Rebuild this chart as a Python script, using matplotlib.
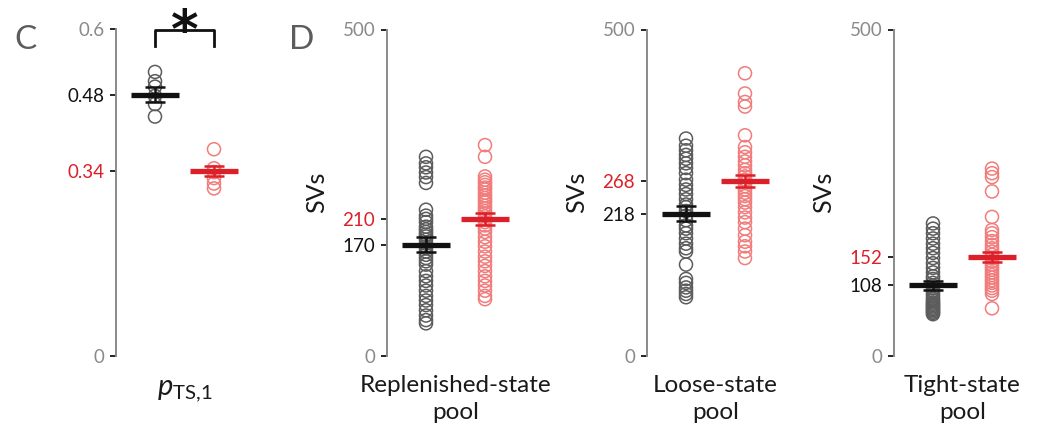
import matplotlib
matplotlib.use("Agg")
import matplotlib.pyplot as plt
import numpy as np

plt.rcParams.update({"font.family": ["Lato", "DejaVu Sans"]})
plt.rcParams.update({"mathtext.fontset": "custom",
                     "mathtext.rm": "Lato",
                     "mathtext.it": "Lato:italic"})

grey = "#8a8a8a"
dark = "#5c5c5c"
black = "#111111"
ink = "#1a1a1a"
red = "#dc2029"
pink = "#f27c7c"

# panel C: p_TS,1 per cell, control vs treated
p_ctrl = [0.522, 0.505, 0.495, 0.478, 0.463, 0.440]
p_trt = [0.380, 0.345, 0.338, 0.327, 0.317, 0.308]
p_means = [0.48, 0.34]
p_sems = [0.014, 0.0095]

# panel D: SV counts per pool
pools = ["Replenished-state\npool", "Loose-state\npool", "Tight-state\npool"]
rep_ctrl = [305, 295, 289, 281, 274, 265, 224, 215, 210, 205, 198, 194, 190, 186, 183,
            178, 172, 168, 165, 160, 155, 150, 145, 140, 130, 122, 115, 108, 100, 92,
            85, 78, 70, 62, 55, 50]
rep_trt = [323, 305, 275, 270, 266, 262, 258, 255, 250, 246, 242, 238, 235, 230, 226,
           222, 218, 214, 210, 205, 200, 195, 190, 182, 175, 168, 160, 152, 145, 138,
           130, 122, 115, 108, 100, 92, 87]
loose_ctrl = [333, 322, 315, 308, 302, 295, 288, 280, 270, 262, 255, 248, 240, 232,
              228, 222, 215, 208, 200, 195, 188, 180, 172, 165, 160, 140, 118, 112,
              105, 100, 95, 90]
loose_trt = [433, 402, 389, 382, 338, 320, 312, 305, 298, 292, 285, 280, 275, 270,
             265, 260, 255, 250, 245, 240, 235, 228, 220, 212, 205, 195, 185, 175,
             168, 160, 150]
tight_ctrl = [203, 195, 188, 180, 172, 165, 158, 150, 142, 135, 128, 122, 118, 112,
              108, 104, 100, 96, 92, 88, 85, 82, 80, 78, 76, 74, 72, 70, 68, 66, 64]
tight_trt = [287, 280, 274, 252, 213, 193, 188, 182, 176, 170, 165, 160, 155, 150,
             145, 140, 136, 132, 128, 124, 120, 116, 112, 108, 104, 100, 95, 73]
sv_ctrl = [rep_ctrl, loose_ctrl, tight_ctrl]
sv_trt = [rep_trt, loose_trt, tight_trt]
sv_means = [[170, 210], [218, 268], [108, 152]]
sv_sems = [[11.5, 9], [11.5, 9.5], [6.5, 8]]


def scatter_panel(ax, groups, means, sems, ymax, labels):
    xs = [1, 2]
    edge = [dark, pink]
    solid = [black, red]
    for x, vals, ec in zip(xs, groups, edge):
        ax.scatter(np.full(len(vals), x), vals, s=88, facecolors="none",
                   edgecolors=ec, linewidths=1.1, zorder=2)
    for x, m, s, c in zip(xs, means, sems, solid):
        ax.hlines(m, x - 0.41, x + 0.41, color=c, lw=3.8, zorder=4)
        ax.errorbar(x, m, yerr=s, color=c, lw=1.8, capsize=7, capthick=1.8,
                    zorder=5)
    ax.set_xlim(0.339, 2.661)
    ax.set_ylim(0, ymax)
    for side in ["top", "right", "bottom"]:
        ax.spines[side].set_visible(False)
    ax.spines["left"].set_color(grey)
    ax.spines["left"].set_linewidth(1.4)
    ax.set_xticks([])
    ax.set_yticks([0, means[1], means[0], ymax])
    ax.set_yticklabels(labels, fontsize=13.5)
    ax.tick_params(axis="y", length=4.5, width=1.2, pad=4)
    tick_colors = [grey, red, black, grey]
    for lab, tk, c in zip(ax.get_yticklabels(), ax.yaxis.get_major_ticks(), tick_colors):
        lab.set_color(c)
        tk.tick1line.set_color(c)


fig = plt.figure(figsize=(10.39, 4.33), dpi=100)
w = 137 / 1039
b = 77 / 433
h = 326.5 / 433

axc = fig.add_axes([116 / 1039, b, w, h])
scatter_panel(axc, [p_ctrl, p_trt], p_means, p_sems, 0.6,
              ["0", "0.34", "0.48", "0.6"])
axc.set_xlabel(r"$p_{\mathrm{TS{,}1}}$", fontsize=21, labelpad=16, color=ink)

# significance bracket
axc.plot([1, 1, 2, 2], [0.5695, 0.5995, 0.5995, 0.5695], color=black, lw=2,
         clip_on=False)
axc.text(1.5, 0.5655, "*", ha="center", va="baseline", fontsize=38,
         fontweight="bold", family="DejaVu Sans", color=black)

lefts = [387, 647, 894]
for left, pool, c_vals, t_vals, m, s in zip(lefts, pools, sv_ctrl, sv_trt,
                                            sv_means, sv_sems):
    ax = fig.add_axes([left / 1039, b, w, h])
    scatter_panel(ax, [c_vals, t_vals], m, s, 500,
                  ["0", str(m[1]), str(m[0]), "500"])
    ax.set_xlabel(pool, fontsize=17.5, labelpad=14, color=ink,
                  linespacing=1.34)
    ax.set_ylabel("SVs", fontsize=18, labelpad=10, color=ink)

fig.text(25 / 1039, 1 - 40 / 433, "C", fontsize=24, color=dark,
         ha="center", va="center")
fig.text(302 / 1039, 1 - 40 / 433, "D", fontsize=24, color=dark,
         ha="center", va="center")

fig.savefig("out.png", dpi=100)
